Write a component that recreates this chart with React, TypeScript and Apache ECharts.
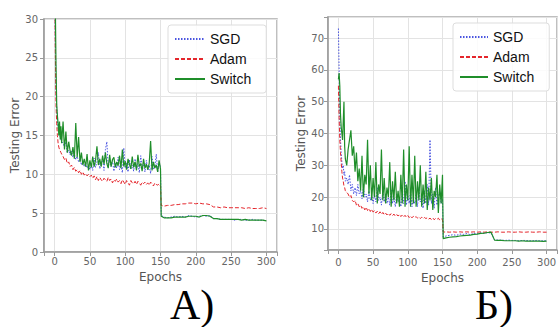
import React, { useEffect, useRef } from "react";
import * as echarts from "echarts";

const EPOCHS: number[] = [
  0, 1, 2, 3, 4, 5, 6, 7, 8, 9, 10,
  12, 14, 16, 18, 20, 22, 24, 26, 28, 30,
  32, 34, 36, 38, 40, 42, 44, 46, 48, 50,
  52, 54, 56, 58, 60, 62, 64, 66, 68, 70,
  72, 74, 76, 78, 80, 82, 84, 86, 88, 90,
  92, 94, 96, 98, 100, 102, 104, 106, 108, 110,
  112, 114, 116, 118, 120, 122, 124, 126, 128, 130,
  132, 134, 136, 138, 140, 142, 144, 146, 148, 150,
  151,
  155, 160, 165, 170, 175, 180, 185, 190, 195, 200, 205, 210, 215, 220,
  225, 230, 235, 240, 245, 250, 255, 260, 265, 270, 275, 280, 285, 290, 295, 300,
];

const SERIES_NAMES = ["SGD", "Adam", "Switch"];

// Chart А)
const SGD_A: number[] = [
  45, 28, 21, 18.5, 17, 16, 15.5, 15, 14.8, 14.5, 14.2,
  14.0, 13.5, 14.2, 12.8, 13.1, 12.5, 13.0, 12.2, 12.6, 11.9,
  12.3, 11.6, 12.0, 11.2, 11.8, 11.0, 11.5, 10.8, 11.2, 10.6,
  11.4, 10.5, 12.1, 10.9, 11.6, 12.8, 10.7, 11.3, 12.0, 10.5,
  13.2, 14.2, 10.9, 12.0, 11.0, 11.8, 10.4, 11.5, 10.8, 12.2,
  10.6, 11.2, 10.2, 13.4, 10.8, 11.5, 10.3, 11.9, 10.7, 11.2,
  10.4, 12.0, 10.6, 11.4, 10.2, 12.4, 10.8, 11.3, 10.3, 11.8,
  10.5, 11.2, 10.1, 12.3, 10.6, 11.0, 12.6, 10.3, 11.5, 10.9,
  4.7,
  4.5, 4.4, 4.5, 4.6, 4.5, 4.6, 4.5, 4.7, 4.6, 4.5, 4.6, 4.7, 4.6, 4.7,
  4.3, 4.3, 4.2, 4.2, 4.2, 4.2, 4.1, 4.2, 4.2, 4.1, 4.1, 4.2, 4.1, 4.1, 4.1, 4.0,
];
const ADAM_A: number[] = [
  40, 26, 19, 16.5, 15, 14, 13.5, 13.2, 13, 12.8, 12.6,
  12.3, 11.9, 12.1, 11.4, 11.6, 11.0, 11.2, 10.6, 10.9, 10.4,
  10.6, 10.2, 10.5, 10.0, 10.3, 9.9, 10.1, 9.8, 10.0, 9.7,
  9.9, 9.5, 9.8, 9.3, 9.7, 9.2, 9.6, 9.3, 9.1, 9.5,
  9.3, 9.1, 9.6, 9.2, 9.4, 8.9, 9.3, 9.1, 9.4, 9.0,
  9.2, 8.8, 9.3, 9.0, 8.7, 9.2, 8.9, 8.6, 9.2, 8.9,
  8.8, 9.1, 8.7, 9.1, 8.9, 8.6, 9.0, 8.8, 9.0, 8.7,
  8.9, 8.6, 9.0, 8.8, 8.5, 8.9, 8.7, 8.6, 8.8, 8.5,
  6.0,
  5.9, 6.0, 6.0, 6.1, 6.1, 6.2, 6.2, 6.3, 6.3, 6.2, 6.3, 6.2, 6.2, 6.1,
  5.8, 5.8, 5.7, 5.8, 5.7, 5.7, 5.7, 5.7, 5.7, 5.6, 5.7, 5.6, 5.6, 5.6, 5.7, 5.6,
];
const SWITCH_A: number[] = [
  48, 32, 24, 19, 17.5, 16.5, 15, 16.8, 14.5, 16.2, 14.0,
  16.8, 13.2, 15.5, 12.8, 14.2, 13.0, 12.4, 13.5, 12.0, 16.6,
  12.2, 14.8, 11.6, 12.8, 11.2, 12.0, 11.0, 12.6, 10.5, 11.8,
  10.9, 12.3, 11.0, 11.8, 13.6, 11.2, 12.0, 11.0, 12.4, 11.3,
  12.8, 11.4, 10.8, 12.5, 11.0, 11.9, 12.2, 10.9, 11.6, 11.1,
  12.4, 10.8, 13.2, 11.0, 11.7, 10.6, 12.0, 11.3, 10.7, 12.3,
  10.9, 11.6, 10.5, 12.5, 11.0, 11.4, 10.4, 12.0, 10.8, 11.3,
  10.6, 11.4, 14.3, 10.5, 11.6, 10.8, 11.2, 10.3, 11.8, 10.7,
  4.6,
  4.4, 4.4, 4.4, 4.5, 4.5, 4.5, 4.5, 4.6, 4.6, 4.6, 4.5, 4.7, 4.7, 4.6,
  4.3, 4.3, 4.2, 4.2, 4.2, 4.2, 4.2, 4.2, 4.1, 4.2, 4.1, 4.1, 4.1, 4.1, 4.1, 4.0,
];

// Chart Б)
const SGD_B: number[] = [
  73, 60, 45, 38, 34, 31, 29, 30, 27, 28, 25,
  26, 24, 27, 22, 24, 21, 23, 20.5, 24, 21,
  22, 19.5, 23, 20, 21, 18.5, 22, 19, 20.5, 18,
  21, 18.5, 23, 19, 20, 17.5, 22, 18.5, 21, 18,
  20, 17.5, 22.5, 18, 20, 17, 21, 18.5, 19.5, 17,
  21, 18, 25, 17.5, 20.5, 18, 22, 17, 19.5, 18,
  21, 17, 23, 18.5, 20, 16.5, 22, 18, 24, 17.5,
  38, 18, 21, 16.5, 23, 17.5, 20, 22, 18, 19.5,
  7.5,
  7.8, 8.0, 8.2, 8.0, 8.4, 8.3, 8.6, 8.2, 8.7, 8.5, 8.8, 8.6, 8.9, 8.7,
  6.6, 6.5, 6.5, 6.4, 6.5, 6.4, 6.4, 6.3, 6.4, 6.4, 6.3, 6.3, 6.4, 6.3, 6.3, 6.3,
];
const ADAM_B: number[] = [
  55, 45, 38, 34, 31, 28, 26, 25, 23.5, 23, 22,
  21.5, 21, 20, 20.5, 19, 18.5, 19, 17.5, 18, 17,
  17.5, 16.5, 17, 16, 16.8, 15.8, 16.4, 15.5, 16.2, 15.3,
  15.8, 15.0, 15.6, 14.8, 15.4, 14.6, 15.2, 14.5, 15.0, 14.4,
  14.9, 14.3, 14.8, 14.2, 14.7, 14.0, 14.5, 14.1, 14.6, 13.9,
  14.4, 13.8, 14.3, 13.7, 14.2, 13.6, 14.1, 13.5, 14.0, 13.6,
  13.9, 13.4, 13.8, 13.3, 13.7, 13.2, 13.6, 13.3, 13.5, 13.1,
  13.4, 13.0, 13.5, 12.9, 13.3, 13.0, 13.4, 12.8, 13.2, 13.0,
  9.0,
  9.1, 9.0, 9.1, 9.0, 9.1, 9.0, 9.1, 9.0, 9.1, 9.0, 9.1, 9.0, 9.1, 9.0,
  9.0, 9.1, 9.0, 9.0, 9.1, 9.0, 9.0, 9.1, 9.0, 9.0, 9.1, 9.0, 9.0, 9.1, 9.0, 9.0,
];
const SWITCH_B: number[] = [
  57, 59, 55, 46, 42, 40, 38, 44, 50, 36, 32,
  30, 35, 38, 41, 33, 36, 28, 34, 25, 29,
  22, 33, 20, 27, 24, 38, 21, 30, 19, 26,
  20, 31, 18, 24, 21, 35, 19, 26, 18, 23,
  20, 31, 17, 25, 19, 28, 18, 22, 17, 27,
  18, 35, 17, 24, 19, 36, 17, 27, 18, 33,
  17, 25, 19, 30, 17, 24, 18, 28, 16, 23,
  19, 26, 16, 22, 20, 27, 15, 24, 18, 27,
  7.0,
  7.2, 7.4, 7.5, 7.6, 7.8, 7.9, 8.0, 8.1, 8.3, 8.4, 8.6, 8.7, 8.9, 9.0,
  6.5, 6.4, 6.4, 6.3, 6.3, 6.3, 6.3, 6.2, 6.3, 6.2, 6.2, 6.2, 6.2, 6.2, 6.1, 6.2,
];

const COLORS = { SGD: "#4a55e0", Adam: "#e4262c", Switch: "#1f8e2a" };
const LINE_TYPES: any = { SGD: [1.5, 1.5], Adam: [4, 2], Switch: "solid" };
const LINE_WIDTHS: any = { SGD: 1, Adam: 1, Switch: 1.2 };

const pairs = (vals: number[]) => EPOCHS.map((e, i) => [e, vals[i]]);

const tickFont = { fontFamily: "DejaVu Sans", fontSize: 10, color: "#666" };
const nameFont = { fontFamily: "DejaVu Sans", fontSize: 12, color: "#555" };

function xAxisFor(gridIndex: number, nameGap: number, margin: number) {
  return {
    gridIndex,
    type: "value",
    min: -15,
    max: 315,
    splitNumber: 6,
    name: "Epochs",
    nameLocation: "middle",
    nameGap,
    nameTextStyle: nameFont,
    axisLine: { show: true, onZero: false, lineStyle: { color: "#999", width: 1.5 } },
    axisTick: { show: true, inside: false, length: 4, lineStyle: { color: "#999" } },
    axisLabel: {
      ...tickFont,
      margin,
      formatter: (v: number) => (v % 50 === 0 ? String(v) : ""),
    },
    splitLine: { show: true, lineStyle: { color: "#e3e3e3", width: 1 } },
  };
}

function yAxisFor(gridIndex: number, extra: any, nameGap: number, margin: number, mod: number) {
  return {
    gridIndex,
    type: "value",
    ...extra,
    name: "Testing Error",
    nameLocation: "middle",
    nameGap,
    nameRotate: 90,
    nameTextStyle: nameFont,
    axisLine: { show: true, onZero: false, lineStyle: { color: "#999", width: 1.5 } },
    axisTick: { show: true, inside: false, length: 4, lineStyle: { color: "#999" } },
    axisLabel: {
      ...tickFont,
      margin,
      formatter: (v: number) => (Math.abs(v % mod) < 1e-9 ? String(v) : ""),
    },
    splitLine: { show: true, lineStyle: { color: "#e3e3e3", width: 1 } },
  };
}

function legendFor(left: number, top: number, itemWidth: number) {
  return {
    data: SERIES_NAMES,
    orient: "vertical",
    left,
    top,
    padding: [7, 15, 7, 6],
    itemWidth,
    itemHeight: 14,
    itemGap: 6,
    backgroundColor: "rgba(255,255,255,0.85)",
    borderColor: "#dddddd",
    borderWidth: 1,
    borderRadius: 3,
    selectedMode: false,
    itemStyle: { opacity: 0, borderWidth: 0 },
    textStyle: { fontFamily: "Liberation Sans", fontSize: 14, color: "#111" },
  };
}

function seriesFor(gridIndex: number, data: number[][]) {
  return SERIES_NAMES.map((name, i) => ({
    name,
    type: "line",
    xAxisIndex: gridIndex,
    yAxisIndex: gridIndex,
    data: pairs(data[i]),
    symbol: "none",
    showSymbol: false,
    clip: true,
    z: 2 + i,
    lineStyle: {
      color: (COLORS as any)[name],
      width: LINE_WIDTHS[name],
      type: LINE_TYPES[name],
    },
    itemStyle: { color: (COLORS as any)[name] },
  }));
}

export default function App() {
  const ref = useRef<HTMLDivElement>(null);
  useEffect(() => {
    if (!ref.current) return;
    const chart = echarts.init(ref.current, undefined, { renderer: "svg" });
    const option: any = {
      animation: false,
      backgroundColor: "#ffffff",
      grid: [
        { left: 44, top: 19, width: 233, height: 233, show: true, borderColor: "#aaa", borderWidth: 1.5, containLabel: false },
        { left: 328, top: 17, width: 230, height: 233, show: true, borderColor: "#aaa", borderWidth: 1.5, containLabel: false },
      ],
      xAxis: [xAxisFor(0, 17, 4), xAxisFor(1, 20, 7)],
      yAxis: [
        yAxisFor(0, { min: 0, max: 30, interval: 5 }, 21, 6, 5),
        yAxisFor(1, { min: 3.4, max: 76.6, splitNumber: 7 }, 21, 4, 10),
      ],
      legend: [legendFor(168, 25, 30), legendFor(453, 23, 28)],
      series: [
        ...seriesFor(0, [SGD_A, ADAM_A, SWITCH_A]),
        ...seriesFor(1, [SGD_B, ADAM_B, SWITCH_B]),
      ],
      graphic: [
        {
          type: "text",
          left: 170,
          top: 284,
          style: { text: "А)", fontFamily: "Liberation Serif", fontSize: 42, fill: "#000" },
        },
        {
          type: "text",
          left: 475,
          top: 284,
          style: { text: "Б)", fontFamily: "Liberation Serif", fontSize: 42, fill: "#000" },
        },
      ],
    };
    chart.setOption(option);
    return () => chart.dispose();
  }, []);
  return (
    <div
      ref={ref}
      style={{ position: "absolute", left: 0, top: 0, width: 560, height: 327, background: "#fff" }}
    />
  );
}
